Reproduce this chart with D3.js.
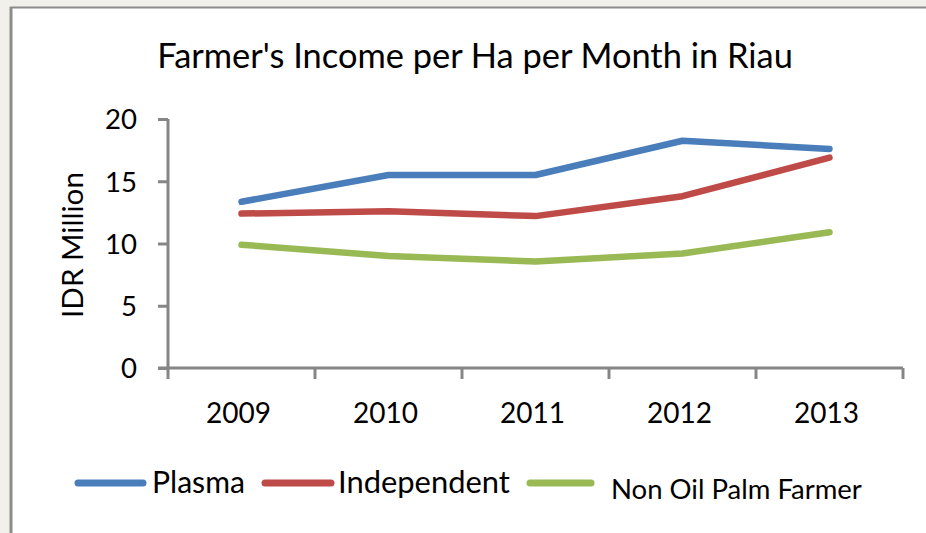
<!DOCTYPE html>
<html>
<head>
<meta charset="utf-8">
<script src="https://cdn.jsdelivr.net/npm/d3@7"></script>
<style>
  html, body { margin: 0; padding: 0; background: #f2f0eb; }
  svg { display: block; }
  text { font-family: Lato, "Open Sans", sans-serif; fill: #000; }
</style>
</head>
<body>
<svg id="chart" width="926" height="533"></svg>
<script>
// Farmer's income per hectare per month, IDR million
const years = ["2009", "2010", "2011", "2012", "2013"];
const plasma = [13.35, 15.5, 15.5, 18.25, 17.6];
const independent = [12.4, 12.6, 12.2, 13.8, 16.9];
const nonOilPalm = [9.9, 9.0, 8.55, 9.2, 10.9];
const yTicks = [0, 5, 10, 15, 20];
const seriesNames = ["Plasma", "Independent", "Non Oil Palm Farmer"];
const seriesColors = ["#4a7ebb", "#be4b48", "#98b954"];

const series = [plasma, independent, nonOilPalm].map((v, i) => ({
  name: seriesNames[i], color: seriesColors[i], values: v
}));

const svg = d3.select("#chart");
const W = 926, H = 533;

// white chart area with grey frame on the top and left
svg.append("rect").attr("x", 11).attr("y", 8).attr("width", W - 11).attr("height", H - 8)
  .attr("fill", "#fff");
svg.append("line").attr("x1", 11).attr("x2", 11).attr("y1", 7).attr("y2", H)
  .attr("stroke", "#8c8c8c").attr("stroke-width", 3);
svg.append("line").attr("x1", 10).attr("x2", W).attr("y1", 7.5).attr("y2", 7.5)
  .attr("stroke", "#8c8c8c").attr("stroke-width", 2);

// scale a text element's font size so it spans a given width; returns the size
function fit(sel, width) {
  const node = sel.node();
  const fs = parseFloat(sel.attr("font-size"));
  const w = node.getComputedTextLength();
  const size = fs * width / w;
  sel.attr("font-size", size.toFixed(2));
  return size;
}

const plot = { left: 168, right: 903, top: 119, bottom: 368 };

const x = d3.scaleBand().domain(years).range([plot.left, plot.right]).padding(0);
const y = d3.scaleLinear().domain([0, 20]).range([plot.bottom, plot.top]);

// title
fit(svg.append("text").attr("x", 475).attr("y", 68).attr("text-anchor", "middle")
  .attr("font-size", 30).text("Farmer's Income per Ha per Month in Riau"), 636);

// y axis
const yAxis = svg.append("g").attr("transform", `translate(${plot.left},0)`)
  .call(d3.axisLeft(y).tickValues(yTicks).tickSize(10).tickPadding(20));
yAxis.select(".domain").attr("stroke", "#868686").attr("stroke-width", 3)
  .attr("d", `M0,${plot.top}V${plot.bottom}`);
yAxis.selectAll(".tick line").attr("stroke", "#868686").attr("stroke-width", 3);
const yLabels = yAxis.selectAll(".tick text").attr("font-size", 27)
  .attr("font-family", "Lato, sans-serif")
  .attr("fill", "#000").attr("dy", "0.36em").attr("x", -31);
const ySize = fit(yAxis.selectAll(".tick text").filter(d => d === 20), 32);
yLabels.attr("font-size", ySize.toFixed(2));

// x axis with tick marks on the category boundaries
const xAxis = svg.append("g").attr("transform", `translate(0,${plot.bottom})`);
xAxis.append("line").attr("x1", plot.left - 10).attr("x2", plot.right)
  .attr("stroke", "#868686").attr("stroke-width", 3);
const bounds = years.map(d => x(d)).concat([x(years[years.length - 1]) + x.bandwidth()]);
xAxis.selectAll("line.tk").data(bounds).join("line").attr("class", "tk")
  .attr("x1", d => d).attr("x2", d => d).attr("y1", 0).attr("y2", 11)
  .attr("stroke", "#868686").attr("stroke-width", 3);
const xLabels = xAxis.selectAll("text").data(years).join("text")
  .attr("x", d => x(d) + x.bandwidth() / 2 - 3).attr("y", 55)
  .attr("text-anchor", "middle").attr("font-size", 27).text(d => d);
const xSize = fit(xLabels.filter((d, i) => i === 0), 65);
xLabels.attr("font-size", xSize.toFixed(2));

// y axis title
fit(svg.append("text").attr("transform", "translate(83,245) rotate(-90)")
  .attr("text-anchor", "middle").attr("font-size", 27).text("IDR Million"), 146);

// series lines
const line = d3.line().x((d, i) => x(years[i]) + x.bandwidth() / 2).y(d => y(d));
svg.append("g").selectAll("path").data(series).join("path")
  .attr("d", d => line(d.values)).attr("fill", "none")
  .attr("stroke", d => d.color).attr("stroke-width", 6.5)
  .attr("stroke-linecap", "round").attr("stroke-linejoin", "round");

// legend
const legendItems = [
  { x1: 78, x2: 143, ty: 493, tx: 152 },
  { x1: 265, x2: 331, ty: 493, tx: 338 },
  { x1: 530, x2: 591, ty: 499, tx: 611 }
];
const lg = svg.append("g").selectAll("g").data(series).join("g");
lg.append("line")
  .attr("x1", (d, i) => legendItems[i].x1).attr("x2", (d, i) => legendItems[i].x2)
  .attr("y1", 483).attr("y2", 483)
  .attr("stroke", d => d.color).attr("stroke-width", 7).attr("stroke-linecap", "round");
lg.append("text").attr("x", (d, i) => legendItems[i].tx).attr("y", (d, i) => legendItems[i].ty)
  .attr("font-size", 26).text(d => d.name);
fit(lg.filter((d, i) => i === 0).select("text"), 93);
fit(lg.filter((d, i) => i === 1).select("text"), 172);
fit(lg.filter((d, i) => i === 2).select("text"), 251);
</script>
</body>
</html>
